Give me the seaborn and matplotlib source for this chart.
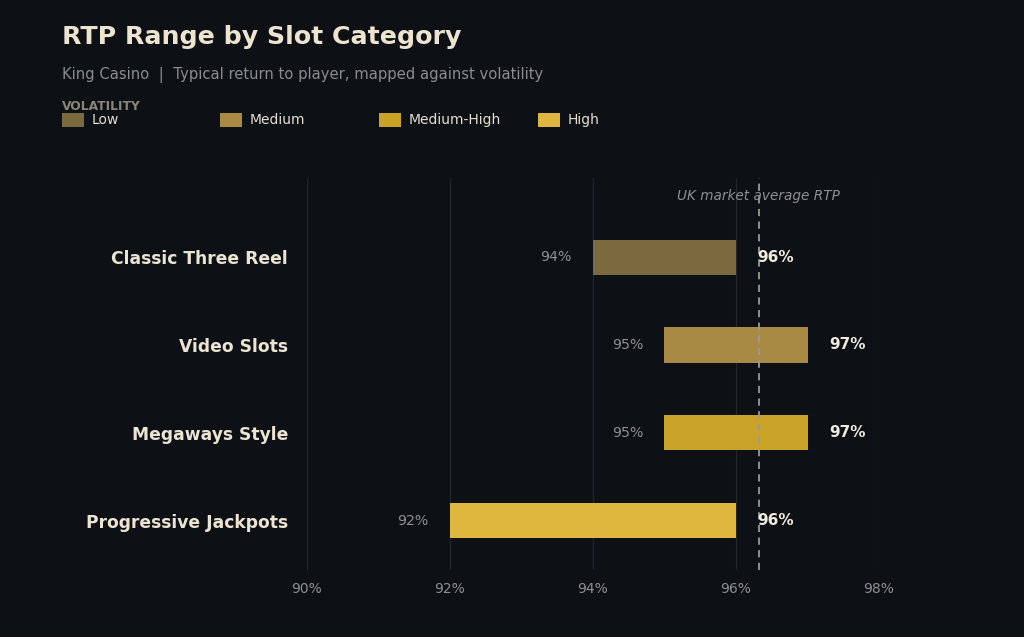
import matplotlib
matplotlib.use("Agg")
import matplotlib.pyplot as plt
from matplotlib.patches import Rectangle
import seaborn as sns

categories = ["Classic Three Reel", "Video Slots", "Megaways Style", "Progressive Jackpots"]
rtp_low = [94, 95, 95, 92]
rtp_high = [96, 97, 97, 96]
volatility = ["Low", "Medium", "Medium-High", "High"]
vol_colors = ["#7b6a40", "#a98a44", "#c9a228", "#e0b73e"]
x_ticks = [90, 92, 94, 96, 98]
uk_avg = 96.32

BG = "#0d1015"
sns.set_theme(style="dark")
plt.rcParams["font.family"] = ["DejaVu Sans"]

fig = plt.figure(figsize=(10.24, 6.37), dpi=100, facecolor=BG)
ax = fig.add_axes([0.2998, 0.1052, 0.5586, 0.6154], facecolor=BG)

for cat, lo, hi, col in zip(categories, rtp_low, rtp_high, vol_colors):
    sns.barplot(x=[hi - lo], y=[cat], order=categories, left=lo, color=col,
                width=0.4, orient="y", errorbar=None, saturation=1,
                linewidth=0, ax=ax)

ax.set_xlim(90, 98)
ax.set_ylim(3.56, -0.9)
ax.set_xticks(x_ticks)
ax.set_xticklabels([f"{t}%" for t in x_ticks], color="#8f8f8f", fontsize=10)
ax.tick_params(axis="x", length=0, pad=9)
ax.tick_params(axis="y", length=0, pad=13.5)
for lab in ax.get_yticklabels():
    lab.set_fontweight("bold")
    lab.set_fontsize(12.3)
    lab.set_color("#ece4d2")
ax.set_xlabel("")
ax.set_ylabel("")
ax.grid(axis="x", color="#23272d", linewidth=0.9)
ax.grid(axis="y", visible=False)
for s in ax.spines.values():
    s.set_visible(False)

for i, (lo, hi) in enumerate(zip(rtp_low, rtp_high)):
    ax.text(lo - 0.3, i, f"{lo}%", ha="right", va="center", color="#8f8f8f", fontsize=10.2)
    ax.text(hi + 0.3, i, f"{hi}%", ha="left", va="center", color="#f2ece0",
            fontsize=11, fontweight="bold")

ax.axvline(uk_avg, color="#9a9a9a", linestyle=(0, (4, 3)), linewidth=1.3)
ax.text(uk_avg, -0.7, "UK market average RTP", ha="center", va="center",
        color="#8f8f8f", fontsize=9.8, fontstyle="italic")

fig.text(62 / 1024, 1 - 37 / 637, "RTP Range by Slot Category", ha="left", va="center",
         color="#ede4d0", fontsize=18.2, fontweight="bold")
fig.text(62 / 1024, 1 - 75 / 637, "King Casino  |  Typical return to player, mapped against volatility",
         ha="left", va="center", color="#8c8c8c", fontsize=10.6)
fig.text(62 / 1024, 1 - 106 / 637, "VOLATILITY", ha="left", va="center",
         color="#8c8578", fontsize=8.8, fontweight="bold")
leg_x = [62, 220, 379, 538]
for x0, name, col in zip(leg_x, volatility, vol_colors):
    fig.patches.append(Rectangle((x0 / 1024, 1 - 127 / 637), 22 / 1024, 14 / 637,
                                 transform=fig.transFigure, facecolor=col, edgecolor="none"))
    fig.text((x0 + 30) / 1024, 1 - 120 / 637, name, ha="left", va="center",
             color="#e6dfd0", fontsize=10)

fig.savefig("out.png", dpi=100, facecolor=BG)
